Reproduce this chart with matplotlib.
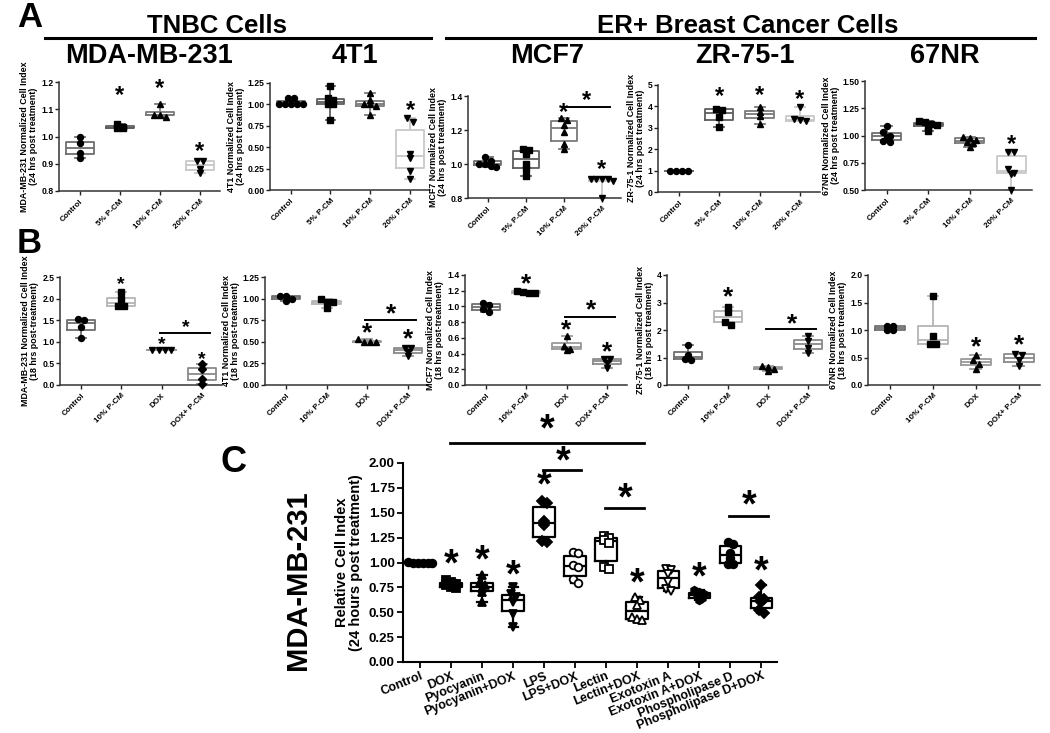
import numpy as np
import matplotlib
matplotlib.use('Agg')
import matplotlib.pyplot as plt
from matplotlib.lines import Line2D

plt.rcParams['font.family'] = ['Liberation Sans', 'DejaVu Sans']
plt.rcParams['font.weight'] = 'bold'
plt.rcParams['axes.labelweight'] = 'bold'

W, H = 1050, 733

# ---------------- data ----------------
a_groups = ['Control', '5% P-CM', '10% P-CM', '20% P-CM']
b_groups = ['Control', '10% P-CM', 'DOX', 'DOX+ P-CM']
c_groups = ['Control', 'DOX', 'Pyocyanin', 'Pyocyanin+DOX', 'LPS', 'LPS+DOX',
            'Lectin', 'Lectin+DOX', 'Exotoxin A', 'Exotoxin A+DOX',
            'Phospholipase D', 'Phospholipase D+DOX']

# panel A (24 hrs)
a_mda = [[1.00, 0.975, 0.94, 0.92], [1.045, 1.035, 1.03, 1.03],
         [1.12, 1.08, 1.08, 1.07], [0.91, 0.91, 0.88, 0.865]]
a_4t1 = [[1.08, 1.07, 1.00, 1.00, 1.00, 1.00, 1.00],
         [1.21, 1.07, 1.05, 1.00, 1.00, 0.82],
         [1.13, 1.05, 1.00, 1.00, 0.98, 0.88],
         [0.84, 0.80, 0.42, 0.37, 0.22, 0.13]]
a_mcf7 = [[1.04, 1.02, 1.00, 1.00, 0.99, 0.98],
          [1.09, 1.08, 1.06, 1.00, 0.97, 0.93],
          [1.27, 1.26, 1.23, 1.19, 1.12, 1.09],
          [0.91, 0.91, 0.91, 0.91, 0.90, 0.80]]
a_zr = [[1.0, 1.0, 1.0, 1.0], [3.9, 3.85, 3.5, 3.05],
        [3.95, 3.75, 3.55, 3.2], [3.95, 3.4, 3.35, 3.3]]
a_67nr = [[1.09, 1.03, 1.00, 0.99, 0.95, 0.94],
          [1.13, 1.12, 1.11, 1.10, 1.08, 1.04],
          [0.99, 0.98, 0.96, 0.94, 0.93, 0.89],
          [0.85, 0.85, 0.69, 0.66, 0.65, 0.50]]

# panel B (18 hrs)
b_mda = [[1.53, 1.50, 1.35, 1.08], [2.15, 1.98, 1.83, 1.83],
         [0.80, 0.80, 0.80, 0.80], [0.48, 0.38, 0.15, 0.03]]
b_4t1 = [[1.03, 1.03, 1.00, 0.97], [1.00, 0.96, 0.96, 0.89],
         [0.53, 0.50, 0.50, 0.50], [0.43, 0.43, 0.38, 0.33]]
b_mcf7 = [[1.05, 1.02, 0.97, 0.93], [1.20, 1.19, 1.17, 1.17],
          [0.62, 0.50, 0.46, 0.45], [0.33, 0.33, 0.28, 0.22]]
b_zr = [[1.45, 1.10, 0.95, 0.90], [2.85, 2.65, 2.30, 2.20],
        [0.68, 0.65, 0.60, 0.50], [1.80, 1.60, 1.35, 1.15]]
b_67nr = [[1.08, 1.07, 1.00, 1.00], [1.62, 0.90, 0.75, 0.75],
          [0.55, 0.45, 0.38, 0.30], [0.57, 0.55, 0.45, 0.35]]

# panel C (MDA-MB-231, 24 hours)
c_vals = [[1.01, 1.00, 1.00, 1.00, 0.99, 1.00],
          [0.82, 0.80, 0.78, 0.77, 0.75, 0.74],
          [0.87, 0.80, 0.77, 0.74, 0.70, 0.60],
          [0.75, 0.68, 0.65, 0.60, 0.48, 0.35],
          [1.62, 1.60, 1.42, 1.38, 1.22, 1.21],
          [1.11, 1.10, 0.97, 0.95, 0.83, 0.79],
          [1.27, 1.25, 1.23, 1.20, 0.95, 0.93],
          [0.65, 0.62, 0.57, 0.45, 0.43, 0.42],
          [0.93, 0.92, 0.88, 0.80, 0.73, 0.71],
          [0.72, 0.70, 0.68, 0.67, 0.64, 0.62],
          [1.21, 1.19, 1.10, 1.05, 0.98, 0.98],
          [0.77, 0.65, 0.63, 0.60, 0.52, 0.49]]
c_stars = [(1, 0.97), (2, 1.01), (3, 0.86), (4, 1.76), (7, 0.78), (9, 0.84), (11, 0.90)]
c_lines = [(1, 7, 2.20, 2.33), (4, 5, 1.925, 2.01), (6, 7, 1.545, 1.63), (10, 11, 1.47, 1.56)]

fig = plt.figure(figsize=(W / 100, H / 100), dpi=100)


def px_axes(x0, y0, x1, y1):
    return fig.add_axes([x0 / W, 1 - y1 / H, (x1 - x0) / W, (y1 - y0) / H])


def spread(vals, tol, step):
    vals = np.asarray(vals, dtype=float)
    order = np.argsort(-vals)
    offs = np.zeros(len(vals))
    clusters = []
    for i in order:
        if clusters and abs(vals[clusters[-1][0]] - vals[i]) <= tol:
            clusters[-1].append(i)
        else:
            clusters.append([i])
    for cl in clusters:
        k = len(cl)
        for j, idx in enumerate(cl):
            offs[idx] = (j - (k - 1) / 2) * step
    return offs


def star(ax, x, y, size):
    ax.text(x, y, '*', ha='center', va='center', fontsize=size,
            fontweight='bold', clip_on=False)


def small_panel(rect, groups, vals, ylim, yticks, fmt, ylabel, markers, colors,
                stars=(), lines=(), star_size=17):
    ax = px_axes(*rect)
    n = len(groups)
    for i, v in enumerate(vals):
        ax.boxplot([v], positions=[i], widths=0.7, whis=(0, 100), showfliers=False,
                   boxprops=dict(color=colors[i], lw=1.3),
                   medianprops=dict(color=colors[i], lw=1.3),
                   whiskerprops=dict(color=colors[i], lw=1.3),
                   capprops=dict(color=colors[i], lw=1.3), capwidths=0.25)
        offs = spread(v, (ylim[1] - ylim[0]) * 0.035, 0.15)
        ax.plot(i + offs, v, ls='none', marker=markers[i], ms=4.3, color='black',
                zorder=3, clip_on=False)
    for (i, y) in stars:
        star(ax, i, y, star_size)
    for (i, j, y, ys) in lines:
        ax.plot([i - 0.05, j + 0.2], [y, y], color='black', lw=1.4, clip_on=False)
        star(ax, (i + j) / 2 + 0.1, ys, star_size)
    ax.set_xlim(-0.52, n - 0.5)
    ax.set_ylim(*ylim)
    ax.set_yticks(yticks)
    ax.set_yticklabels([fmt % t for t in yticks])
    ax.set_xticks(range(n))
    ax.set_xticklabels(groups, rotation=45, ha='right', rotation_mode='anchor')
    ax.tick_params(axis='y', labelsize=6.2, length=3, width=1, pad=1, colors='#222222')
    ax.tick_params(axis='x', labelsize=5.8, length=3, width=1, pad=2, colors='#222222')
    for lab in ax.get_xticklabels() + ax.get_yticklabels():
        lab.set_fontweight('bold')
        lab.set_color('black')
    for s in ['top', 'right']:
        ax.spines[s].set_visible(False)
    for s in ['left', 'bottom']:
        ax.spines[s].set_linewidth(1.1)
        ax.spines[s].set_color('#333333')
    ax.set_ylabel(ylabel, fontsize=6.4, fontweight='bold', linespacing=1.0, labelpad=2)
    return ax


a_markers = ['o', 's', '^', 'v']
a_colors = ['#6e6e6e', '#5e5e5e', '#7a7a7a', '#c8c8c8']
b_colors = ['#6e6e6e', '#b4b4b4', '#9a9a9a', '#8a8a8a']

small_panel((59, 82, 220, 191), a_groups, a_mda, (0.8, 1.2), [0.8, 0.9, 1.0, 1.1, 1.2], '%.1f',
            'MDA-MB-231 Normalized Cell Index\n(24 hrs post treatment)', a_markers, a_colors,
            stars=[(1, 1.15), (2, 1.175), (3, 0.945)])
small_panel((270, 83, 430, 190), a_groups, a_4t1, (0, 1.25), [0, 0.25, 0.5, 0.75, 1.0, 1.25], '%.2f',
            '4T1 Normalized Cell Index\n(24 hrs post treatment)', a_markers, a_colors,
            stars=[(3, 0.93)])
small_panel((468, 96, 621, 198), a_groups, a_mcf7, (0.8, 1.4), [0.8, 1.0, 1.2, 1.4], '%.1f',
            'MCF7 Normalized Cell Index\n(24 hrs post treatment)', a_markers, a_colors,
            stars=[(2, 1.30), (3, 0.965)], lines=[(2, 3, 1.335, 1.375)])
small_panel((658, 85, 820, 192), a_groups, a_zr, (0, 5), [0, 1, 2, 3, 4, 5], '%d',
            'ZR-75-1 Normalized Cell Index\n(24 hrs post treatment)', a_markers, a_colors,
            stars=[(1, 4.45), (2, 4.5), (3, 4.3)])
small_panel((865, 81, 1032, 190), a_groups, a_67nr, (0.5, 1.5), [0.5, 0.75, 1.0, 1.25, 1.5], '%.2f',
            '67NR Normalized Cell Index\n(24 hrs post treatment)', a_markers, a_colors,
            stars=[(3, 0.92)])

small_panel((60, 277, 222, 385), b_groups, b_mda, (0, 2.5), [0, 0.5, 1.0, 1.5, 2.0, 2.5], '%.1f',
            'MDA-MB-231 Normalized Cell Index\n(18 hrs post-treatment)', ['o', 's', 'v', 'D'], b_colors,
            stars=[(1, 2.32), (2, 0.93), (3, 0.6)], lines=[(2, 3, 1.2, 1.33)], star_size=14)
small_panel((265, 277, 428, 385), b_groups, b_4t1, (0, 1.25), [0, 0.25, 0.5, 0.75, 1.0, 1.25], '%.2f',
            '4T1 Normalized Cell Index\n(18 hrs post-treatment)', ['o', 's', '^', 'v'], b_colors,
            stars=[(2, 0.6), (3, 0.53)], lines=[(2, 3, 0.75, 0.82)], star_size=19)
small_panel((465, 275, 627, 385), b_groups, b_mcf7, (0, 1.4), [0, 0.2, 0.4, 0.6, 0.8, 1.0, 1.2, 1.4], '%.1f',
            'MCF7 Normalized Cell Index\n(18 hrs post-treatment)', ['o', 's', '^', 'v'], b_colors,
            stars=[(1, 1.28), (2, 0.70), (3, 0.41)], lines=[(2, 3, 0.86, 0.95)], star_size=19)
small_panel((667, 275, 828, 385), b_groups, b_zr, (0, 4), [0, 1, 2, 3, 4], '%d',
            'ZR-75-1 Normalized Cell Index\n(18 hrs post treatment)', ['o', 's', '^', 'v'], b_colors,
            stars=[(1, 3.2)], lines=[(2, 3, 2.05, 2.22)], star_size=19)
small_panel((868, 275, 1040, 385), b_groups, b_67nr, (0, 2.0), [0, 0.5, 1.0, 1.5, 2.0], '%.1f',
            '67NR Normalized Cell Index\n(18 hrs post treatment)', ['o', 's', '^', 'v'], b_colors,
            stars=[(2, 0.68), (3, 0.72)], star_size=19)

# ---------------- panel C ----------------
axc = px_axes(403, 463, 777, 662)
c_markers = ['o', 's', '^', 'v', 'D', 'o', 's', '^', 'v', 'h', 'o', 'D']
c_filled = [True, True, True, True, True, False, False, False, False, True, True, True]
for i, v in enumerate(c_vals):
    axc.boxplot([v], positions=[i], widths=0.7, whis=(0, 100), showfliers=False,
                boxprops=dict(color='black', lw=1.6),
                medianprops=dict(color='black', lw=1.6),
                whiskerprops=dict(color='black', lw=1.6),
                capprops=dict(color='black', lw=1.6), capwidths=0.3)
    offs = spread(v, 0.04, 0.16)
    axc.plot(i + offs, v, ls='none', marker=c_markers[i], ms=5.5,
             mfc='black' if c_filled[i] else 'white', mec='black', mew=1.3,
             zorder=3, clip_on=False)
for (i, y) in c_stars:
    star(axc, i, y, 27)
for (i, j, y, ys) in c_lines:
    axc.plot([i - 0.05, j + 0.2], [y, y], color='black', lw=2, clip_on=False)
    star(axc, (i + j) / 2 + 0.1, ys, 27)
axc.set_xlim(-0.55, 11.5)
axc.set_ylim(0, 2.0)
c_ticks = [0, 0.25, 0.5, 0.75, 1.0, 1.25, 1.5, 1.75, 2.0]
axc.set_yticks(c_ticks)
axc.set_yticklabels(['%.2f' % t for t in c_ticks])
axc.set_xticks(range(len(c_groups)))
axc.set_xticklabels(c_groups, rotation=22, ha='right', rotation_mode='anchor')
axc.tick_params(axis='y', labelsize=9.5, length=4, width=1.3, pad=2)
axc.tick_params(axis='x', labelsize=9, length=4, width=1.3, pad=2)
for lab in axc.get_xticklabels() + axc.get_yticklabels():
    lab.set_fontweight('bold')
for s in ['top', 'right']:
    axc.spines[s].set_visible(False)
for s in ['left', 'bottom']:
    axc.spines[s].set_linewidth(1.5)
axc.set_ylabel('Relative Cell Index\n(24 hours post treatment)', fontsize=10.5,
               fontweight='bold', linespacing=1.0, labelpad=4)
fig.text(298 / W, 1 - 580 / H, 'MDA-MB-231', rotation=90, ha='center', va='center',
         fontsize=21, fontweight='bold')

# ---------------- headers ----------------
fig.text(17 / W, 1 - 27 / H, 'A', fontsize=25, fontweight='bold', va='baseline')
fig.text(17 / W, 1 - 253 / H, 'B', fontsize=25, fontweight='bold', va='baseline')
fig.text(221 / W, 1 - 472 / H, 'C', fontsize=26, fontweight='bold', va='baseline')

fig.text(217 / W, 1 - 33 / H, 'TNBC Cells', fontsize=18.5, fontweight='bold', ha='center',
         va='baseline')
fig.text(748 / W, 1 - 33 / H, 'ER+ Breast Cancer Cells', fontsize=18.5, fontweight='bold',
         ha='center', va='baseline')
fig.add_artist(Line2D([45 / W, 431 / W], [1 - 37.5 / H, 1 - 37.5 / H], color='black', lw=2.2))
fig.add_artist(Line2D([446 / W, 1035 / W], [1 - 37.5 / H, 1 - 37.5 / H], color='black', lw=2.2))

for name, xc in [('MDA-MB-231', 149), ('4T1', 355), ('MCF7', 547), ('ZR-75-1', 745), ('67NR', 945)]:
    fig.text(xc / W, 1 - 63 / H, name, fontsize=19.5, fontweight='bold', ha='center',
             va='baseline')

fig.savefig('out.png', dpi=100)
